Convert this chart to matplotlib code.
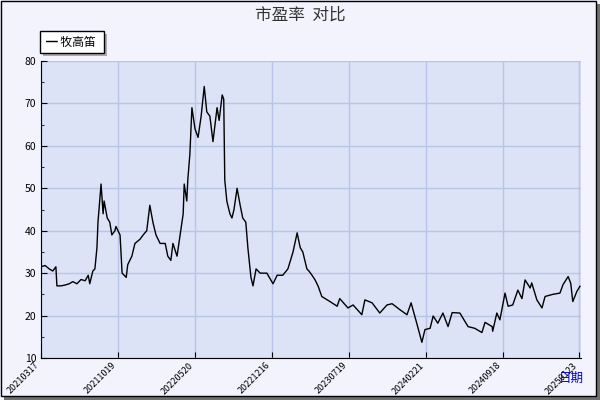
import matplotlib.pyplot as plt
from matplotlib.patches import Rectangle

plt.rcParams['font.family'] = ['Noto Sans CJK SC', 'DejaVu Sans']

# trading-day index and P/E value
day = [0, 8, 16, 23, 29, 31, 39, 47, 55, 62, 70, 78, 86, 92, 95, 101, 105, 109, 111, 117,
       121, 123, 129, 134, 138, 144, 146, 154, 158, 166, 169, 177, 183, 193, 199, 206, 212, 218, 224, 232,
       242, 247, 253, 257, 265, 271, 277, 279, 284, 286, 290, 294, 300, 306, 312, 318, 323, 329, 335, 343,
       347, 353, 356, 358, 362, 368, 372, 376, 382, 388, 393, 399, 403, 409, 413, 419, 427, 440, 452, 460,
       471, 481, 491, 499, 505, 510, 518, 522, 528, 534, 540, 547, 563, 577, 582, 598, 608, 625, 631, 645,
       660, 674, 684, 699, 713, 721, 732, 742, 748, 758, 764, 773, 783, 793, 801, 816, 832, 845, 859, 865,
       879, 880, 888, 894, 904, 910, 919, 929, 937, 943, 953, 956, 966, 976, 982, 997, 1011, 1017, 1027, 1032,
       1036, 1044, 1050]
pe = [31.5, 31.8, 31, 30.5, 31.5, 27, 27, 27.2, 27.5, 28, 27.5, 28.5, 28.2, 29.5, 27.5, 30.5, 31, 36, 42, 51,
      44, 47, 43, 42, 39, 40, 41, 39, 30, 29, 32, 34, 37, 38, 39, 40, 46, 42, 39, 37,
      37, 34, 33, 37, 34, 39, 44, 51, 47, 52, 58, 69, 64, 62, 67, 74, 68, 67, 61, 69,
      66, 72, 71, 52, 47, 44, 43, 45, 50, 46, 43, 42, 36, 29, 27, 31, 30, 30, 27.5, 29.5,
      29.5, 31, 35, 39.5, 36, 35, 31, 30.5, 29.5, 28.4, 26.9, 24.5, 23.3, 22.2, 24, 21.8, 22.5, 20.2, 23.7, 23,
      20.6, 22.5, 22.8, 21.4, 20.2, 23, 18.2, 13.7, 16.7, 17, 19.9, 18.2, 20.6, 17.4, 20.7, 20.6, 17.4, 17, 16, 18.4,
      17.4, 16.3, 20.6, 19, 25.3, 22.2, 22.5, 26, 24, 28.4, 26.5, 27.7, 23.7, 21.8, 24.5, 25, 25.3, 27.3, 29.2, 27.6,
      23.3, 25.7, 26.9]
tick_days = [0, 150, 300, 450, 600, 750, 900, 1048]
tick_labels = ['20210317', '20211019', '20220520', '20221216', '20230719',
               '20240221', '20240918', '20250123']

fig = plt.figure(figsize=(6, 4), dpi=100, facecolor='#f2f3fc')
# outer frame with shadow, behind everything
fig.patches.append(Rectangle((4/600, 0), 596/600, 396/400, transform=fig.transFigure,
                             facecolor='#707070', edgecolor='none', zorder=-3))
fig.patches.append(Rectangle((0.5/600, 4/400), 595/600, 395.5/400, transform=fig.transFigure,
                             facecolor='#f2f3fc', edgecolor='black', lw=1, zorder=-2))

ax = fig.add_axes([41/600, 42/400, 540/600, 297/400])
ax.set_zorder(1)
ax.set_facecolor('#dce3f7')
ax.plot(day, pe, color='black', lw=1)
ax.set_xlim(0, 1052)
ax.set_ylim(10, 80)
ax.set_yticks(range(10, 81, 10))
ax.set_yticks(range(10, 81, 5), minor=True)
ax.set_xticks(tick_days)
ax.set_xticklabels(tick_labels, rotation=45, ha='right', fontsize=6.5)
ax.tick_params(axis='y', labelsize=7.5, direction='in', length=4)
ax.tick_params(axis='y', which='minor', direction='in', length=2)
ax.tick_params(axis='x', direction='in', length=4, pad=2)
ax.grid(True, color='#b8c4e8', lw=1)
for s in ['top', 'right']:
    ax.spines[s].set_visible(False)

fig.text(0.5, 0.962, '市盈率  对比', ha='center', va='center', fontsize=12, color='#333333')
fig.text(0.953, 0.055, '日期', ha='center', va='center', fontsize=9, color='#0000cc', zorder=3)

# legend box
fig.patches.append(Rectangle((43/600, 344/400), 64/600, 22/400, transform=fig.transFigure,
                             facecolor='#aaaaaa', edgecolor='none', zorder=2))
fig.patches.append(Rectangle((40/600, 347/400), 64/600, 22/400, transform=fig.transFigure,
                             facecolor='white', edgecolor='black', lw=1, zorder=2))
fig.text(46/600, 358/400, '━ 牧高笛', va='center', fontsize=8.5, zorder=3)

fig.savefig('out.png', dpi=100, facecolor=fig.get_facecolor())
